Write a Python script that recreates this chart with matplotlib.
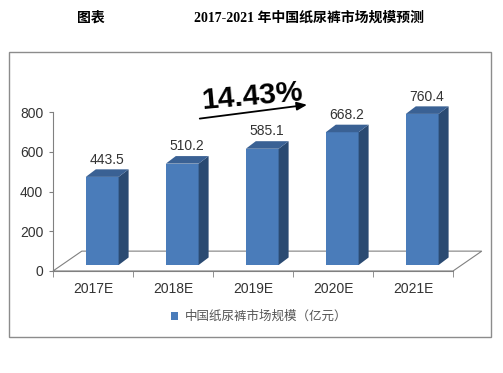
import matplotlib.pyplot as plt
from matplotlib.patches import Polygon, Rectangle

years = ["2017E", "2018E", "2019E", "2020E", "2021E"]
market_size = [443.5, 510.2, 585.1, 668.2, 760.4]
growth_label = "14.43%"
legend_label = "中国纸尿裤市场规模（亿元）"
title_left = "图表"
title_main = "2017-2021 年中国纸尿裤市场规模预测"

FRONT = "#4a7cba"
SIDE = "#2a4a72"
TOP = "#3a6194"
TXT = "#333333"
SANS = ["Liberation Sans", "Noto Sans CJK SC"]

# pseudo-3D geometry (category units / value units)
BAR_LEFT, BAR_W = -0.09, 0.41
BASE = 30
DEPTH_X, DEPTH_Y = 0.125, 38
FLOOR_X, FLOOR_Y = 0.36, 100

fig = plt.figure(figsize=(5.03, 3.73), dpi=100)
fig.patch.set_facecolor("white")

# outer chart box
fig.add_artist(Rectangle((9 / 503, 1 - 337 / 373), 482 / 503, 285 / 373,
                         transform=fig.transFigure, fill=False, ec="#8c8c8c", lw=1))

fig.text(91 / 503, 1 - 18 / 373, title_left, ha="center", va="center",
         fontsize=10, fontweight="bold", family=["Liberation Serif", "Noto Sans CJK SC"])
fig.text(309 / 503, 1 - 18 / 373, title_main, ha="center", va="center",
         fontsize=10, fontweight="bold", family=["Liberation Serif", "Noto Sans CJK SC"])

ax = fig.add_axes([53 / 503, 102 / 373, 400 / 503, 159 / 373])
ax.set_xlim(-0.5, len(years) - 0.5)
ax.set_ylim(0, 800)
ax.set_facecolor("none")
for s in ["top", "right"]:
    ax.spines[s].set_visible(False)
for s in ["left", "bottom"]:
    ax.spines[s].set_color("#808080")
    ax.spines[s].set_linewidth(0.8)

# floor
n = len(years)
floor = Polygon([(-0.5, 0), (n - 0.5, 0), (n - 0.5 + FLOOR_X, FLOOR_Y), (-0.5 + FLOOR_X, FLOOR_Y)],
                closed=True, fc="white", ec="#808080", lw=0.8, clip_on=False, zorder=1)
ax.add_patch(floor)

for i, v in enumerate(market_size):
    x0 = i + BAR_LEFT
    x1 = x0 + BAR_W
    top = BASE + v
    ax.bar(x0, v, width=BAR_W, bottom=BASE, align="edge", color=FRONT, zorder=3,
           label=legend_label if i == 0 else None, clip_on=False)
    ax.add_patch(Polygon([(x1, BASE), (x1 + DEPTH_X, BASE + DEPTH_Y),
                          (x1 + DEPTH_X, top + DEPTH_Y), (x1, top)],
                         closed=True, fc=SIDE, ec="none", zorder=3, clip_on=False))
    ax.add_patch(Polygon([(x0, top), (x1, top), (x1 + DEPTH_X, top + DEPTH_Y),
                          (x0 + DEPTH_X, top + DEPTH_Y)],
                         closed=True, fc=TOP, ec="none", zorder=3, clip_on=False))
    ax.text(i + 0.175, v + 117, f"{v:.1f}", ha="center", va="center",
            fontsize=10, color=TXT, family=SANS)

ax.set_yticks([0, 200, 400, 600, 800])
ax.set_xticks(range(n))
ax.set_xticklabels(years)
ax.set_xticks([i + 0.5 for i in range(-1, n)], minor=True)
ax.tick_params(axis="x", which="major", length=0, pad=8, labelsize=10, labelcolor=TXT)
ax.tick_params(axis="x", which="minor", length=4, color="#808080")
ax.tick_params(axis="y", length=3, color="#808080", pad=4, labelsize=10, labelcolor=TXT)
for lab in ax.get_xticklabels() + ax.get_yticklabels():
    lab.set_family(SANS)

# growth arrow
ax.annotate("", xy=(2.71, 838), xytext=(1.3, 765), annotation_clip=False,
            arrowprops=dict(arrowstyle="-|>,head_length=0.6,head_width=0.25",
                            color="black", lw=1.3))
ax.text(1.99, 875, growth_label, ha="center", va="center", fontsize=21.5,
        fontweight="bold", rotation=5, family=SANS, clip_on=False)

leg = fig.legend(loc="center", bbox_to_anchor=(259 / 503, 56 / 373), frameon=False,
                 handlelength=0.6, handleheight=0.6, handletextpad=0.5,
                 prop={"family": SANS, "size": 9})
for t in leg.get_texts():
    t.set_color("#555555")

fig.savefig("out.png", dpi=100)
